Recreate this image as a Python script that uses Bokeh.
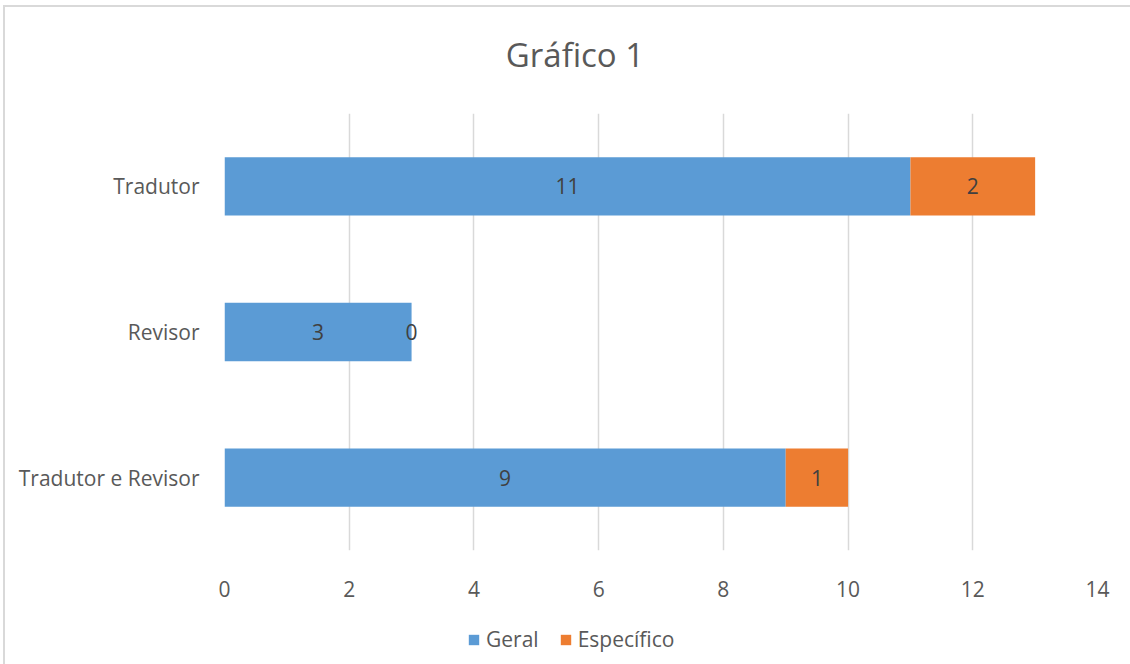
from bokeh.plotting import figure
from bokeh.models import ColumnDataSource, Range1d, FactorRange, Legend, LegendItem, LabelSet, FixedTicker, Column, Div
from bokeh.core.properties import value
from bokeh.embed import file_html
from bokeh.resources import INLINE

title_text = "Gráfico 1"
categories = ["Tradutor e Revisor", "Revisor", "Tradutor"]
geral = [9, 3, 11]
especifico = [1, 0, 2]
series_names = ["Geral", "Específico"]
colors = ["#5b9bd5", "#ed7d31"]
x_ticks = [0, 2, 4, 6, 8, 10, 12, 14]

FONT = "Open Sans"
TXT = "#595959"
FS = "21px"

src = ColumnDataSource(dict(
    cat=categories,
    Geral=geral,
    Especifico=especifico,
    geral_mid=[g / 2 for g in geral],
    esp_mid=[g + e / 2 for g, e in zip(geral, especifico)],
    geral_lbl=[str(g) for g in geral],
    esp_lbl=[str(e) for e in especifico],
))

# ---- title ----
title_div = Div(
    text=("<div style='width:1122px;height:86px;line-height:86px;text-align:center;"
          "font-family:\"Open Sans\";font-size:33px;color:#595959;padding-left:8px;"
          "box-sizing:border-box;white-space:nowrap'>" + title_text + "</div>"),
    width=1122, height=86)

# ---- main chart ----
p = figure(width=1122, height=517, output_backend="svg", toolbar_location=None,
           x_range=Range1d(0, 14), y_range=FactorRange(factors=categories),
           min_border_left=219, min_border_right=30, min_border_top=10,
           min_border_bottom=70)

p.hbar_stack(["Geral", "Especifico"], y="cat", height=0.4, color=colors,
             line_color=None, source=src)

for xcol, tcol in (("geral_mid", "geral_lbl"), ("esp_mid", "esp_lbl")):
    p.add_layout(LabelSet(x=xcol, y="cat", text=tcol, source=src,
                          text_align="center", text_baseline="middle",
                          text_font=value(FONT), text_font_size=value(FS),
                          text_color="#404040"))

p.outline_line_color = None
p.ygrid.grid_line_color = None
p.xgrid.grid_line_color = "#d9d9d9"
p.xgrid.grid_line_width = 1.5

p.xaxis.ticker = FixedTicker(ticks=x_ticks)
p.xaxis.axis_line_color = None
p.xaxis.major_tick_line_color = None
p.xaxis.minor_tick_line_color = None
p.xaxis.major_label_standoff = 24
p.xaxis.major_label_text_font = FONT
p.xaxis.major_label_text_font_size = FS
p.xaxis.major_label_text_color = TXT

p.yaxis.axis_line_color = None
p.yaxis.major_tick_line_color = None
p.yaxis.major_label_standoff = 19
p.yaxis.major_label_text_font = FONT
p.yaxis.major_label_text_font_size = FS
p.yaxis.major_label_text_color = TXT

# ---- legend strip (same series, zero-height bars so nothing is drawn) ----
lg = figure(width=1122, height=50, output_backend="svg", toolbar_location=None,
            x_range=Range1d(0, 14), y_range=FactorRange(factors=categories),
            x_axis_location=None, y_axis_location=None,
            min_border=0, outline_line_color=None)
lg.xgrid.grid_line_color = None
lg.ygrid.grid_line_color = None
lrs = lg.hbar_stack(["Geral", "Especifico"], y="cat", height=0, color=colors,
                    line_color=None, source=src)
legend = Legend(items=[LegendItem(label=series_names[i], renderers=[lrs[i]]) for i in range(2)],
                orientation="horizontal", location=(243, 17),
                label_text_font=FONT, label_text_font_size=FS, label_text_color=TXT,
                glyph_width=13, glyph_height=13, spacing=20, label_standoff=6,
                border_line_color=None, background_fill_alpha=0, padding=4, margin=0)
lg.add_layout(legend, "center")

layout = Column(title_div, p, lg, spacing=0,
                styles={"border": "2px solid #d9d9d9", "margin-left": "3px", "margin-top": "5px"})

open("out.html", "w").write(file_html(layout, INLINE))
